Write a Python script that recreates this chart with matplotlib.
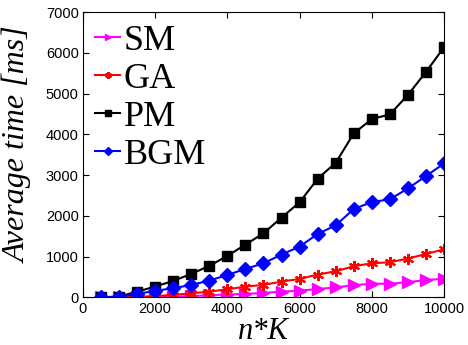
import matplotlib
matplotlib.use('Agg')
from matplotlib import pyplot as plt

# data
nk = [500, 1000, 1500, 2000, 2500, 3000, 3500, 4000, 4500, 5000,
      5500, 6000, 6500, 7000, 7500, 8000, 8500, 9000, 9500, 10000]
sm = [0, 0, 0, 5, 15, 30, 55, 70, 85, 110,
      140, 165, 205, 245, 300, 335, 335, 375, 425, 458]
ga = [0, 0, 10, 35, 60, 100, 141, 199, 265, 306,
      388, 453, 560, 641, 764, 837, 862, 952, 1066, 1180]
pm = [0, 20, 140, 265, 404, 576, 772, 1017, 1295, 1573,
      1957, 2333, 2912, 3304, 4025, 4375, 4490, 4971, 5534, 6140]
bgm = [0, 20, 85, 160, 225, 306, 412, 551, 698, 837,
       1050, 1246, 1557, 1769, 2169, 2340, 2406, 2675, 2978, 3288]

xticks = [0, 2000, 4000, 6000, 8000, 10000]
yticks = [0, 1000, 2000, 3000, 4000, 5000, 6000, 7000]

fig = plt.figure(figsize=(4.68, 3.45), dpi=100)
ax = fig.add_axes([0.177, 0.138, 0.772, 0.827])

ax.plot(nk, sm, color='magenta', marker='>', markersize=8, lw=1.5, label='SM')
ax.plot(nk, ga, color='red', marker=(6, 2, 0), markersize=8, mew=1.5, lw=1.5, label='GA')
ax.plot(nk, pm, color='black', marker='s', markersize=6.5, lw=1.5, label='PM')
ax.plot(nk, bgm, color='blue', marker='D', markersize=7, lw=1.5, label='BGM')

ax.set_xlim(0, 10000)
ax.set_ylim(0, 7000)
ax.set_xticks(xticks)
ax.set_yticks(yticks)
ax.tick_params(direction='in', top=True, right=True, length=4, labelsize=10.5, pad=3)
for lab in ax.get_xticklabels() + ax.get_yticklabels():
    lab.set_family('Liberation Sans')

ax.set_xlabel('n*K', fontsize=22, family='Liberation Serif', style='italic', labelpad=1)
ax.set_ylabel('Average time [ms]', fontsize=23, family='Liberation Serif', style='italic')
ax.yaxis.set_label_coords(-0.14, 0.535)

ax.legend(loc='upper left', frameon=False, prop={'family': 'Liberation Serif', 'size': 26},
          handlelength=0.68, handletextpad=0.1, labelspacing=0.13, markerscale=0.6,
          borderaxespad=0.25, borderpad=0.1)

fig.savefig('out.png', dpi=100)
